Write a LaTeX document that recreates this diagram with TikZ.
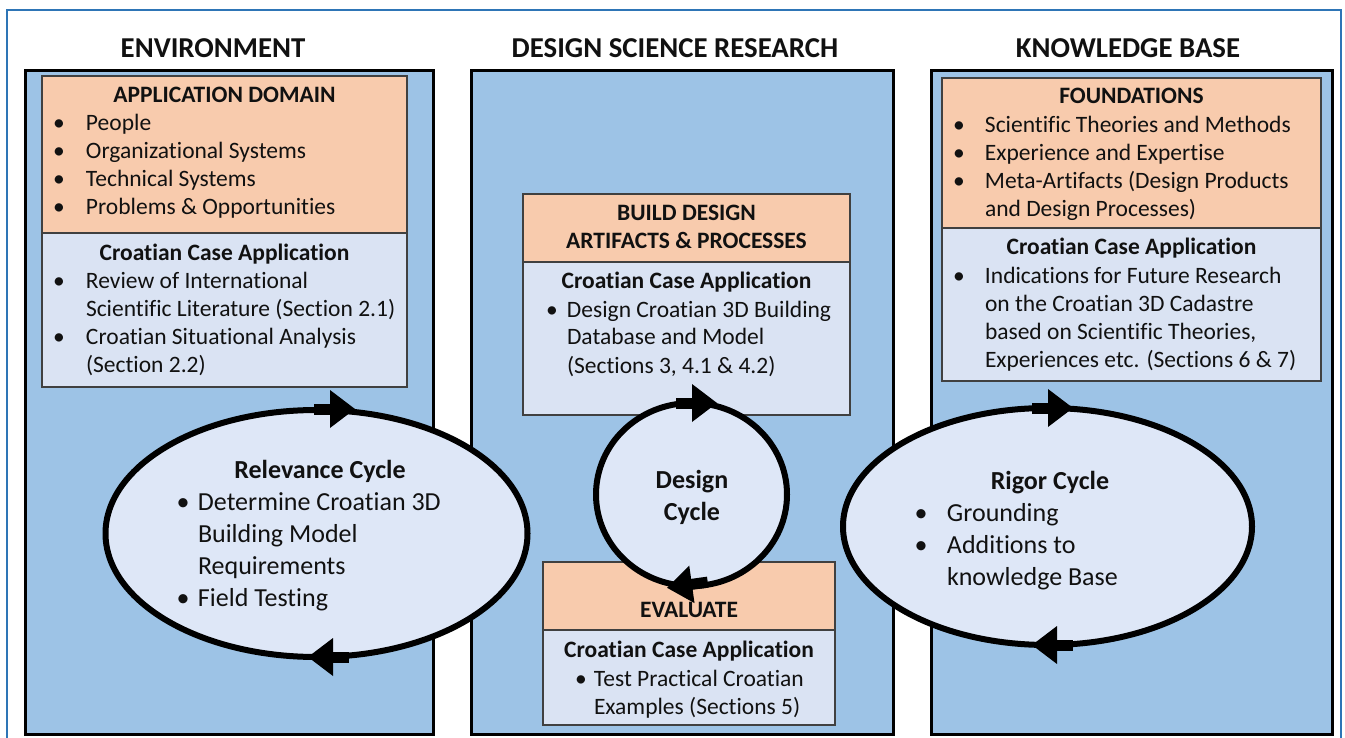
\documentclass[tikz,border=0pt]{standalone}
\usepackage{fontspec}
\setmainfont{Carlito}[Ligatures={NoCommon}]
\usetikzlibrary{shapes.geometric}
\definecolor{colblue}{HTML}{9DC3E6}
\definecolor{orangebox}{HTML}{F8CBAD}
\definecolor{lightbox}{HTML}{DAE3F3}
\definecolor{cyclefill}{HTML}{DEE7F7}
\definecolor{framecol}{HTML}{2E75B6}
\definecolor{edgegray}{HTML}{404040}
\definecolor{txt}{HTML}{111111}
\newcommand{\bodyfnt}{\fontsize{23.5}{28}\selectfont}
\newcommand{\cycfnt}{\fontsize{26}{32}\selectfont}
\newcommand{\headfnt}{\fontsize{28.8}{34}\selectfont\bfseries}
\begin{document}
\begin{tikzpicture}[x=1pt,y=-1pt,
  colbox/.style={draw=black, line width=3pt, fill=colblue, inner sep=0, outer sep=0},
  orangepart/.style={draw=edgegray, line width=1.2pt, fill=orangebox, inner sep=0, outer sep=0},
  bluepart/.style={draw=edgegray, line width=1.2pt, fill=lightbox, inner sep=0, outer sep=0},
  cyc/.style={ellipse, draw=black, line width=6pt, fill=cyclefill, inner sep=0, outer sep=0},
  txtnode/.style={inner sep=0, outer sep=0, text=txt},
  head/.style={txtnode, anchor=base, font=\headfnt},
  btitle/.style={txtnode, anchor=base, font=\bodyfnt\bfseries},
  blist/.style={txtnode, anchor=base west, font=\bodyfnt},
  ctitle/.style={txtnode, anchor=base, font=\cycfnt\bfseries},
  clist/.style={txtnode, anchor=base west, font=\cycfnt},
  cyclearrow/.pic={
    \fill[black] (-12,-19) -- (13,0) -- (-12,19) -- cycle;
    \fill[black] (-28,-5.5) rectangle (-11,5.5);
  }]
\useasboundingbox (0,0) rectangle (1345,738);
\fill[white] (0,0) rectangle (1345,738);
% outer frame
\draw[framecol, line width=2.5pt] (7,760) -- (7,10) -- (1341,10) -- (1341,760);

% headers
\node[head] (hEnv) at (213,58) {ENVIRONMENT};
\node[head] (hDsr) at (675,58) {DESIGN SCIENCE RESEARCH};
\node[head] (hKb) at (1128,58) {KNOWLEDGE BASE};

% columns
\node[colbox, minimum width=408pt, minimum height=663pt] (env) at (229,402.5) {};
\node[colbox, minimum width=422pt, minimum height=663pt] (dsr) at (682,402.5) {};
\node[colbox, minimum width=401pt, minimum height=663pt] (kb) at (1131.5,402.5) {};

% inner boxes
\node[orangepart, minimum width=365pt, minimum height=157pt] (appdom) at (224.5,154.5) {};
\node[bluepart, minimum width=365pt, minimum height=154pt] (envcase) at (224.5,310) {};
\node[orangepart, minimum width=327pt, minimum height=68pt] (build) at (686.5,228) {};
\node[bluepart, minimum width=327pt, minimum height=153pt] (buildcase) at (686.5,338.5) {};
\node[orangepart, minimum width=292pt, minimum height=68pt] (eval) at (689,596) {};
\node[bluepart, minimum width=292pt, minimum height=95pt] (evalcase) at (689,677.5) {};
\node[orangepart, minimum width=379pt, minimum height=150pt] (found) at (1131.5,153) {};
\node[bluepart, minimum width=379pt, minimum height=153pt] (kbcase) at (1131.5,304.5) {};

% cycles
\node[cyc, minimum width=422pt, minimum height=247pt] (rel) at (316.5,533.5) {};
\node[cyc, minimum width=191pt, minimum height=183pt] (des) at (691.5,494.5) {};
\node[cyc, minimum width=409pt, minimum height=237pt] (rig) at (1047.5,526.5) {};

% cycle arrows
\pic at (342,409) {cyclearrow};
\pic[rotate=180] at (321,657) {cyclearrow};
\pic at (704,403) {cyclearrow};
\pic[rotate=188] at (680,586) {cyclearrow};
\pic at (1060,408) {cyclearrow};
\pic[rotate=180] at (1045,645) {cyclearrow};

% left column texts
\node[btitle] (appdomT) at (224.5,103) {APPLICATION DOMAIN};
\node[blist] (appdomL) at (53,131) {\begin{tabular}[t]{@{}p{33pt}@{}l@{}}
• & People\\ • & Organizational Systems\\ • & Technical Systems\\ • & Problems \& Opportunities
\end{tabular}};
\node[btitle] (envcaseT) at (224.5,261) {Croatian Case Application};
\node[blist] (envcaseL) at (53,289) {\begin{tabular}[t]{@{}p{33pt}@{}l@{}}
• & Review of International\\ & Scientific Literature (Section 2.1)\\ • & Croatian Situational Analysis\\ & (Section 2.2)
\end{tabular}};

% middle column texts
\node[btitle] (buildT) at (686.5,221) {\begin{tabular}[t]{@{}c@{}}BUILD DESIGN\\ARTIFACTS \& PROCESSES\end{tabular}};
\node[btitle] (buildcaseT) at (686.5,289) {Croatian Case Application};
\node[blist] (buildcaseL) at (546,317) {\begin{tabular}[t]{@{}p{21pt}@{}l@{}}
• & Design Croatian 3D Building\\ & Database and Model\\ & (Sections 3, 4.1 \& 4.2)
\end{tabular}};
\node[btitle] (evalT) at (689,617) {EVALUATE};
\node[btitle] (evalcaseT) at (689,657) {Croatian Case Application};
\node[blist] (evalcaseL) at (575,686) {\begin{tabular}[t]{@{}p{19pt}@{}l@{}}
• & Test Practical Croatian\\ & Examples (Sections 5)
\end{tabular}};

% right column texts
\node[btitle] (foundT) at (1131.5,104) {FOUNDATIONS};
\node[blist] (foundL) at (953,133) {\begin{tabular}[t]{@{}p{32pt}@{}l@{}}
• & Scientific Theories and Methods\\ • & Experience and Expertise\\ • & Meta-Artifacts (Design Products\\ & and Design Processes)
\end{tabular}};
\node[btitle] (kbcaseT) at (1131.5,255) {Croatian Case Application};
\node[blist] (kbcaseL) at (953,284) {\begin{tabular}[t]{@{}p{32pt}@{}l@{}}
• & Indications for Future Research\\ & on the Croatian 3D Cadastre\\ & based on Scientific Theories,\\ & Experiences etc. (Sections 6 \& 7)
\end{tabular}};

% cycle texts
\node[ctitle] (relT) at (320,478) {Relevance Cycle};
\node[clist] (relL) at (176.5,510) {\begin{tabular}[t]{@{}p{21.5pt}@{}l@{}}
• & Determine Croatian 3D\\ & Building Model\\ & Requirements\\ • & Field Testing
\end{tabular}};
\node[ctitle] (desT) at (692,488) {\begin{tabular}[t]{@{}c@{}}Design\\Cycle\end{tabular}};
\node[ctitle] (rigT) at (1050,489) {Rigor Cycle};
\node[clist] (rigL) at (914.5,521) {\begin{tabular}[t]{@{}p{32.5pt}@{}l@{}}
• & Grounding\\ • & Additions to\\ & knowledge Base
\end{tabular}};
\end{tikzpicture}
\end{document}
